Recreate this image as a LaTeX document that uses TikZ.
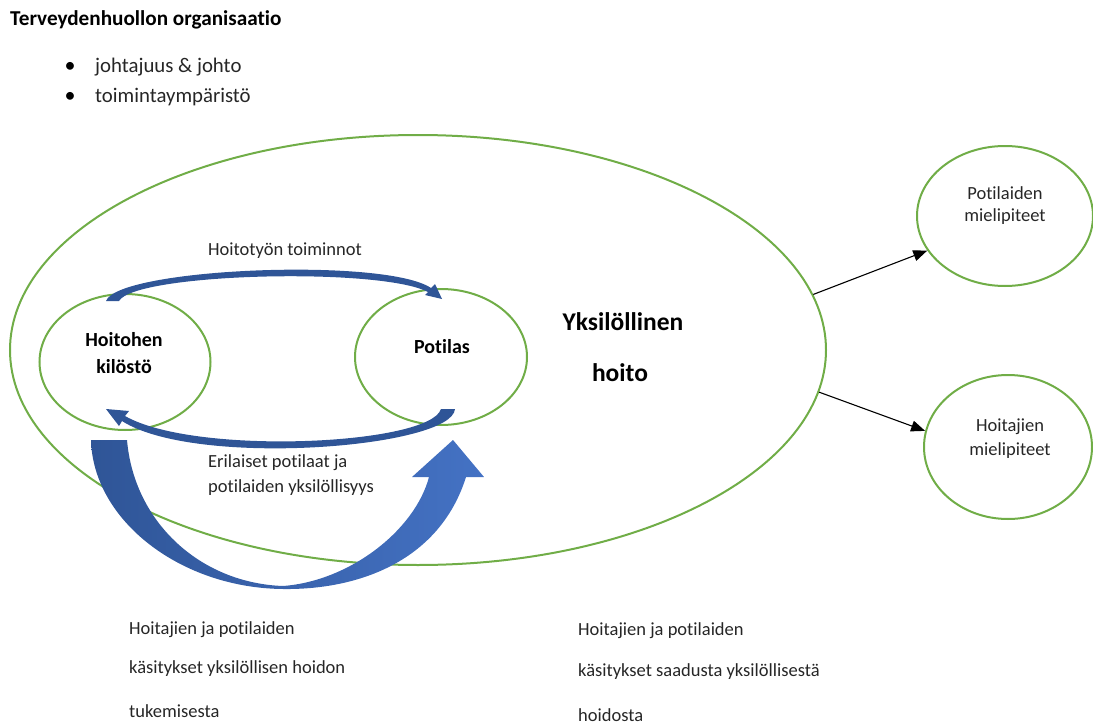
\documentclass[tikz,border=0pt]{standalone}
\usepackage{fontspec}
\setmainfont[Ligatures={NoCommon}]{Carlito}
\usetikzlibrary{shapes.geometric,arrows.meta}
\definecolor{grn}{HTML}{70AD47}
\definecolor{dblue}{HTML}{2F5597}
\definecolor{lblue}{HTML}{4472C4}
\definecolor{txt}{HTML}{262626}
\begin{document}
\begin{tikzpicture}[x=1pt,y=-1pt,
  ell/.style={draw=grn,line width=2pt,ellipse,inner sep=0pt},
  lbl/.style={font=\fontsize{18.5}{22}\selectfont,text=txt,inner sep=0pt},
  lblL/.style={lbl,anchor=west},
  bold/.style={font=\fontsize{20}{24}\selectfont\bfseries,text=black,inner sep=0pt},
  conn/.style={line width=1.1pt,-{Triangle[length=14pt,width=11pt]}}]
\useasboundingbox (0,0) rectangle (1093,725);
% header
\node[font=\fontsize{21.2}{24}\selectfont\bfseries,anchor=west,inner sep=0pt] (title) at (10,20) {Terveydenhuollon organisaatio};
\node[lbl,text=black,font=\fontsize{22}{22}\selectfont] (b1) at (70,67) {•};
\node[lbl,text=black,font=\fontsize{22}{22}\selectfont] (b2) at (70,97) {•};
\node[lblL,font=\fontsize{20.8}{24}\selectfont] (t1) at (95,67) {johtajuus \& johto};
\node[lblL,font=\fontsize{20.8}{24}\selectfont] (t2) at (95,97) {toimintaympäristö};
% ellipses
\node[ell,minimum width=816pt,minimum height=430pt] (big) at (418,350) {};
\node[ell,minimum width=171pt,minimum height=136pt] (hk) at (125,362) {};
\node[ell,minimum width=172pt,minimum height=136pt] (pt) at (441,357) {};
\node[ell,minimum width=176pt,minimum height=140pt] (pm) at (1005,216) {};
\node[ell,minimum width=168pt,minimum height=144pt] (hm) at (1008,447) {};
% texts in ellipses
\node[bold] (hk1) at (124,340) {Hoitohen};
\node[bold] (hk2) at (124,367) {kilöstö};
\node[bold] (pt1) at (442,347) {Potilas};
\node[font=\fontsize{25.5}{28}\selectfont\bfseries,inner sep=0pt] (yk1) at (623,322) {Yksilöllinen};
\node[font=\fontsize{25.5}{28}\selectfont\bfseries,inner sep=0pt] (yk2) at (620,373) {hoito};
\node[lbl] (pm1) at (1005,193) {Potilaiden};
\node[lbl] (pm2) at (1005,217) {mielipiteet};
\node[lbl] (hm1) at (1010,427) {Hoitajien};
\node[lbl] (hm2) at (1010,451) {mielipiteet};
% inner labels
\node[lbl] (ht) at (285,251) {Hoitotyön toiminnot};
\node[lblL] (e1) at (208,463) {Erilaiset potilaat ja};
\node[lblL] (e2) at (208,488) {potilaiden yksilöllisyys};
% bottom texts
\node[lblL] (l1) at (129,630) {Hoitajien ja potilaiden};
\node[lblL] (l2) at (129,669) {käsitykset yksilöllisen hoidon};
\node[lblL] (l3) at (129,711) {tukemisesta};
\node[lblL] (r1) at (578,631) {Hoitajien ja potilaiden};
\node[lblL] (r2) at (578,672) {käsitykset saadusta yksilöllisestä};
\node[lblL] (r3) at (578,715) {hoidosta};
% connectors to opinions
\draw[conn] (big.8.6) -- (pm.204);
\draw[conn] (big.-6.9) -- (hm.169);
% top curved arrow (Hoitotyon toiminnot)
\fill[dblue] (106,301) .. controls (118,268) and (385,257) .. (431,288)
  -- (435,284) -- (442,299) -- (425,295) -- (428,292)
  .. controls (380,267) and (135,273) .. (119,301) -- cycle;
% bottom curved arrow
\fill[dblue] (441,409) -- (455,409) .. controls (452,448) and (195,468) .. (122,421)
  -- (119,426) -- (106,409) -- (129,411) -- (125,416)
  .. controls (195,456) and (430,445) .. (441,409) -- cycle;
% big U arrow
\shade[left color=dblue,right color=lblue,middle color=dblue!50!lblue]
  (91,440) -- (127,440) .. controls (134,522) and (200,583) .. (283,586)
  .. controls (350,581) and (415,530) .. (429,477)
  -- (412,477) -- (453,440) -- (484,477) -- (466,477)
  .. controls (440,560) and (360,590) .. (283,589)
  .. controls (180,588) and (93,520) .. (91,440) -- cycle;
\end{tikzpicture}
\end{document}
